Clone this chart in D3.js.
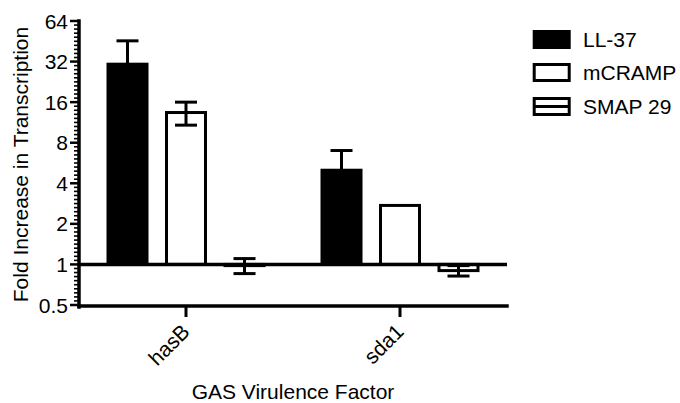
<!DOCTYPE html>
<html>
<head>
<meta charset="utf-8">
<script src="https://cdn.jsdelivr.net/npm/d3@7"></script>
<style>
  html, body { margin: 0; padding: 0; background: #fff; }
  text { font-family: "Liberation Sans", Arial, Helvetica, sans-serif; fill: #000; }
</style>
</head>
<body>
<script>
// ---- data ----
const categories = ["hasB", "sda1"];
const seriesNames = ["LL-37", "mCRAMP", "SMAP 29"];
const ll37Values   = [30.6, 5.0];
const ll37Errors   = [15.0, 2.0];
const mcrampValues = [13.4, 2.74];
const mcrampErrors = [2.6, 0];
const smapValues   = [0.98, 0.90];
const smapErrors   = [0.125, 0.08];
const yTickValues  = [0.5, 1, 2, 4, 8, 16, 32, 64];
const yTickLabels  = ["0.5", "1", "2", "4", "8", "16", "32", "64"];
const xTitle = "GAS Virulence Factor";
const yTitle = "Fold Increase in Transcription";

const seriesValues = [ll37Values, mcrampValues, smapValues];
const seriesErrors = [ll37Errors, mcrampErrors, smapErrors];
const seriesFill = ["#000000", "#ffffff", "#ffffff"];

const W = 680, H = 403;
const svg = d3.select("body").append("svg").attr("width", W).attr("height", H);

const xLeft = 79, xRight = 507;
const x0 = d3.scaleBand().domain(categories).range([xLeft, xRight]).paddingInner(0).paddingOuter(0);
const groupW = 175.5;
const x1 = d3.scaleBand().domain(seriesNames).range([0, groupW]).paddingInner(1/3).paddingOuter(1/6);
const y = d3.scaleLog().base(2).domain([0.5, 64]).range([305, 21]);

const rows = [];
seriesNames.forEach((s, si) => {
  categories.forEach((c, ci) => {
    rows.push({ s, si, c, v: seriesValues[si][ci], e: seriesErrors[si][ci] });
  });
});
const bx = d => x0(d.c) + x0.bandwidth() / 2 - groupW / 2 + x1(d.s);

// error bars (hidden part inside solid bars is covered; drawn first, then bars, then visible parts)
const eg = svg.append("g").attr("stroke", "#000").attr("stroke-width", 3).attr("fill", "none");

// bars
svg.append("g").selectAll("rect").data(rows).join("rect")
  .attr("x", bx)
  .attr("y", d => Math.min(y(d.v), y(1)))
  .attr("width", x1.bandwidth())
  .attr("height", d => Math.abs(y(d.v) - y(1)))
  .attr("fill", d => seriesFill[d.si])
  .attr("stroke", "#000")
  .attr("stroke-width", 3);

const eg2 = svg.append("g").attr("stroke", "#000").attr("stroke-width", 3).attr("fill", "none");
rows.filter(d => d.e > 0).forEach(d => {
  const cx = bx(d) + x1.bandwidth() / 2;
  const capW = 11;
  const hi = y(d.v + d.e), lo = y(d.v - d.e);
  const solid = seriesFill[d.si] === "#000000";
  // for solid bars only the part pointing away from the baseline is drawn
  const a = solid ? (d.v >= 1 ? hi : lo) : hi;
  const b = solid ? y(d.v) : lo;
  eg2.append("line").attr("x1", cx).attr("x2", cx).attr("y1", a).attr("y2", b);
  eg2.append("line").attr("x1", cx - capW).attr("x2", cx + capW).attr("y1", a).attr("y2", a);
  if (!solid) {
    eg2.append("line").attr("x1", cx - capW).attr("x2", cx + capW).attr("y1", lo).attr("y2", lo);
  }
});

// baseline at 1
svg.append("line").attr("x1", xLeft).attr("x2", xRight)
  .attr("y1", y(1)).attr("y2", y(1))
  .attr("stroke", "#000").attr("stroke-width", 3.5);

// x axis
const xa = svg.append("g");
xa.append("line").attr("x1", xLeft).attr("x2", xRight)
  .attr("y1", y(0.5) + 1).attr("y2", y(0.5) + 1)
  .attr("stroke", "#000").attr("stroke-width", 3.5).attr("stroke-linecap", "square");
categories.forEach(c => {
  const cx = x0(c) + x0.bandwidth() / 2;
  xa.append("line").attr("x1", cx).attr("x2", cx).attr("y1", y(0.5)).attr("y2", y(0.5) + 12)
    .attr("stroke", "#000").attr("stroke-width", 3);
  xa.append("text").attr("transform", `translate(${cx + 5},${333}) rotate(-45)`)
    .attr("text-anchor", "end").attr("font-size", 21).text(c);
});

// y axis
const ya = svg.append("g");
ya.append("line").attr("x1", xLeft).attr("x2", xLeft)
  .attr("y1", y(64)).attr("y2", y(0.5) + 2)
  .attr("stroke", "#000").attr("stroke-width", 3.5).attr("stroke-linecap", "square");
// minor ticks
for (let i = 0; i < yTickValues.length - 1; i++) {
  for (let k = 1; k < 10; k++) {
    const v = yTickValues[i] * Math.pow(2, k / 10);
    ya.append("line").attr("x1", xLeft - 5).attr("x2", xLeft)
      .attr("y1", y(v)).attr("y2", y(v)).attr("stroke", "#000").attr("stroke-width", 1.6);
  }
}
yTickValues.forEach((v, i) => {
  ya.append("line").attr("x1", xLeft - 9).attr("x2", xLeft)
    .attr("y1", y(v)).attr("y2", y(v)).attr("stroke", "#000").attr("stroke-width", 2.5);
  ya.append("text").attr("x", xLeft - 11).attr("y", y(v)).attr("dy", "0.36em")
    .attr("text-anchor", "end").attr("font-size", 21).text(yTickLabels[i]);
});

// titles
svg.append("text").attr("x", 293).attr("y", 399).attr("text-anchor", "middle")
  .attr("font-size", 21).text(xTitle);
svg.append("text").attr("transform", "translate(28,164.5) rotate(-90)")
  .attr("text-anchor", "middle").attr("font-size", 21).text(yTitle);

// legend
const lg = svg.append("g");
const legendTops = [31.5, 64.5, 98.5];
seriesNames.forEach((s, i) => {
  const top = legendTops[i];
  lg.append("rect").attr("x", 534.2).attr("y", top).attr("width", 35).attr("height", 16)
    .attr("fill", seriesFill[i]).attr("stroke", "#000").attr("stroke-width", 3);
  if (i === 2) {
    lg.append("line").attr("x1", 534.2).attr("x2", 569.2).attr("y1", top + 8).attr("y2", top + 8)
      .attr("stroke", "#000").attr("stroke-width", 3);
  }
  lg.append("text").attr("x", 583).attr("y", top + 8).attr("dy", "0.36em")
    .attr("font-size", 21).text(s);
});
</script>
</body>
</html>
